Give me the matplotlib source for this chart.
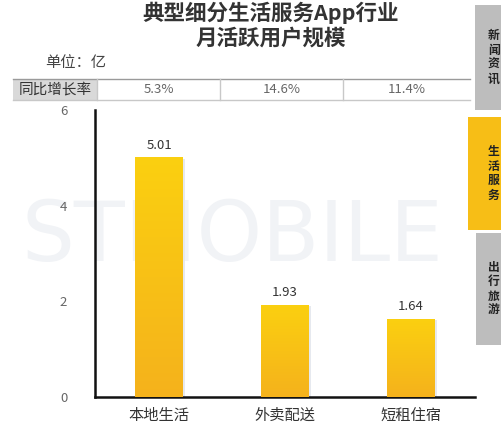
import numpy as np
import matplotlib.pyplot as plt
from matplotlib.patches import Rectangle
from matplotlib.colors import LinearSegmentedColormap

plt.rcParams['font.family'] = ['Noto Sans CJK SC', 'DejaVu Sans']

# data
categories = ['本地生活', '外卖配送', '短租住宿']
users = [5.01, 1.93, 1.64]          # 月活跃用户规模，单位：亿
growth = ['5.3%', '14.6%', '11.4%']  # 同比增长率
yticks = [0, 2, 4, 6]
tabs = ['新闻资讯', '生活服务', '出行旅游']

W, H = 501, 425
fig = plt.figure(figsize=(W / 100, H / 100), dpi=100)

# overlay in pixel coordinates for watermark, table and side tabs
ov = fig.add_axes([0, 0, 1, 1], zorder=0)
ov.set_xlim(0, W)
ov.set_ylim(H, 0)
ov.axis('off')

ov.text(232, 238, 'STMOBILE', fontsize=60, color='#f1f3f6', ha='center',
        va='center', family='DejaVu Sans')

fig.text(0.54, 0.94, '典型细分生活服务App行业\n月活跃用户规模', ha='center',
         va='center', fontsize=15.5, color='#333333', fontweight='bold',
         linespacing=1.2)
fig.text(0.09, 0.853, '单位：亿', fontsize=11, color='#444444', va='center')

# growth table
top, bot = 79, 100
cols = [13, 97, 220, 343, 470]
ov.add_patch(Rectangle((cols[0], top), cols[1] - cols[0], bot - top,
                       facecolor='#d9d9d9', edgecolor='none'))
ov.plot([cols[0], cols[-1]], [top, top], color='#9a9a9a', lw=1)
ov.plot([cols[0], cols[-1]], [bot, bot], color='#c8c8c8', lw=1)
for x in cols[1:-1]:
    ov.plot([x, x], [top, bot], color='#c8c8c8', lw=1)
ov.text((cols[0] + cols[1]) / 2, (top + bot) / 2, '同比增长率', ha='center',
        va='center', fontsize=10.5, color='#333333')
for i, g in enumerate(growth):
    ov.text((cols[i + 1] + cols[i + 2]) / 2, (top + bot) / 2, g, ha='center',
            va='center', fontsize=9.5, color='#666666')

# side tabs
tab_box = [(475, 5, 105, '#bdbdbd'), (468, 117, 113, '#f7be16'),
           (476, 233, 112, '#bdbdbd')]
for (x0, y0, h, c), t in zip(tab_box, tabs):
    ov.add_patch(Rectangle((x0, y0), W - x0, h, facecolor=c, edgecolor='none'))
    ov.text(488, y0 + h / 2, '\n'.join(t), ha='left', va='center',
            fontsize=8.5, color='#222222', linespacing=1.15, fontweight='bold')

# main bar chart
ax = fig.add_axes([95 / W, 1 - 397 / H, 380 / W, 287 / H], zorder=1)
ax.patch.set_alpha(0)
x = np.arange(len(categories))
bars = ax.bar(x, users, width=0.38, color='none', zorder=3)

cmap = LinearSegmentedColormap.from_list('bar', ['#f5b21c', '#fbd010'])
grad = np.linspace(0, 1, 256).reshape(-1, 1)
for b, v in zip(bars, users):
    bx, bw = b.get_x(), b.get_width()
    # faint shadow to the right
    ax.add_patch(Rectangle((bx + 0.02, 0), bw, v - 0.03, facecolor='#e6e9ef',
                           edgecolor='none', zorder=2))
    im = ax.imshow(grad, cmap=cmap, aspect='auto', origin='lower',
                   extent=(bx, bx + bw, 0, v), zorder=3)
    im.set_clip_path(b)
    ax.text(b.get_x() + bw / 2, v + 0.12, f'{v:.2f}', ha='center',
            va='bottom', fontsize=9.5, color='#333333')

ax.set_xlim(-0.508, 2.508)
ax.set_ylim(0, 6)
ax.set_yticks(yticks)
ax.set_yticklabels([str(t) for t in yticks], color='#666666', fontsize=9.5)
ax.set_xticks(x)
ax.set_xticklabels(categories, fontsize=11, color='#333333')
ax.tick_params(axis='both', length=0)
ax.tick_params(axis='y', pad=20)
ax.tick_params(axis='x', pad=7)
for s in ['top', 'right']:
    ax.spines[s].set_visible(False)
ax.spines['left'].set_linewidth(1.8)
ax.spines['bottom'].set_linewidth(1.8)
ax.spines['left'].set_color('#111111')
ax.spines['bottom'].set_color('#111111')

fig.savefig('out.png', dpi=100)
